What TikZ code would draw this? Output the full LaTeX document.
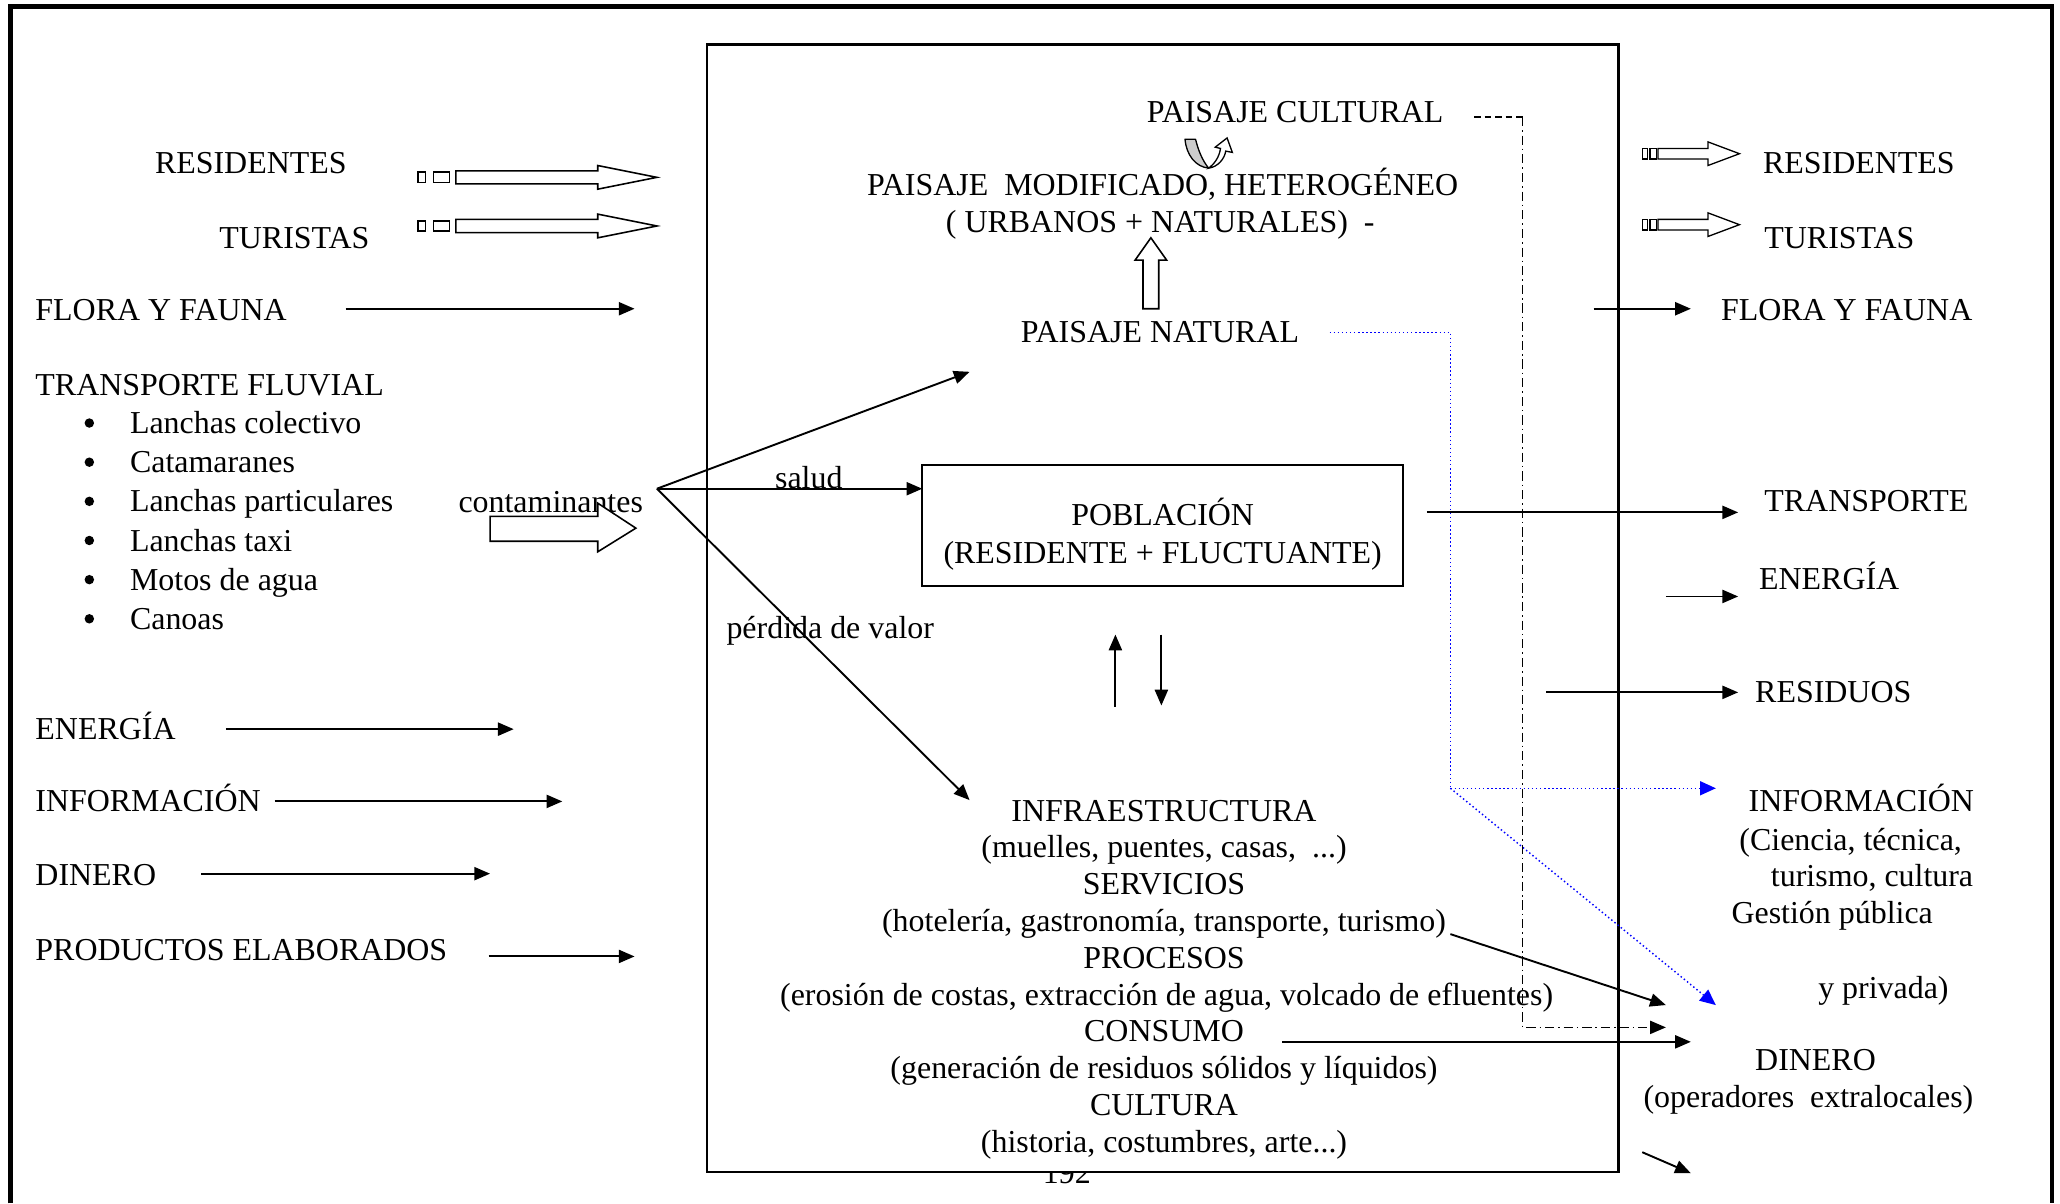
\documentclass[tikz,border=0pt]{standalone}
\usepackage{fontspec}
\setmainfont{Liberation Serif}
\usetikzlibrary{arrows.meta}
\begin{document}
\begin{tikzpicture}[x=1pt,y=-1pt,
  font=\fontsize{24.3}{28}\selectfont,
  every node/.style={inner sep=0pt,outer sep=0pt},
  lt/.style={anchor=base west},
  ct/.style={anchor=base},
  arr/.style={line width=1.45pt,-{Triangle[length=12pt,width=10pt]}},
  blk/.style={draw=black,line width=1.2pt,fill=white,line join=miter},
  bluedot/.style={draw=blue,line width=1.1pt,dotted},
  barr/.style={bluedot,-{Triangle[length=12pt,width=11pt,fill=blue,line width=0pt]}},
  dashdot/.style={line width=1.2pt,dash pattern=on 7pt off 3pt on 1.2pt off 3pt}]
\useasboundingbox (0,0) rectangle (1568,916);
\fill[white] (0,0) rectangle (1568,916);
% outer frame
\draw[line width=3.5pt] (8,916) -- (8,5) -- (1562,5) -- (1562,916);
% page number (partly hidden by the box)
\node[ct] (pg) at (812,901) {192};
% inner box
\draw[line width=1.8pt,fill=white] (538,34) rectangle (1232,892);

% ---------- left texts ----------
\node[lt] (lres) at (118,132) {RESIDENTES};
\node[lt] (ltur) at (167,189) {TURISTAS};
\node[lt] (lflo) at (27,244) {FLORA Y FAUNA};
\node[lt] (ltra) at (27,301) {TRANSPORTE FLUVIAL};
\foreach \t [count=\i] in {Lanchas colectivo,Catamaranes,Lanchas particulares,Lanchas taxi,Motos de agua,Canoas}{
  \fill (68,{322+29.8*(\i-1)}) circle (3.6pt);
  \node[lt] (it\i) at (99,{330+29.8*(\i-1)}) {\t};
}
\node[lt] (lene) at (27,563) {ENERGÍA};
\node[lt] (linf) at (27,618) {INFORMACIÓN};
\node[lt] (ldin) at (27,674) {DINERO};
\node[lt] (lpro) at (27,731) {PRODUCTOS ELABORADOS};

% left block arrows
\foreach \yy in {135,172}{
  \draw[blk] (318,{\yy-4}) rectangle (324,{\yy+4});
  \draw[blk] (330,{\yy-4}) rectangle (342,{\yy+4});
  \draw[blk] (347,{\yy-5}) -- (455,{\yy-5}) -- (455,{\yy-9}) -- (500,\yy) -- (455,{\yy+9}) -- (455,{\yy+5}) -- (347,{\yy+5}) -- cycle;
}
% left simple arrows
\coordinate (flo1) at (263,235); \coordinate (flo2) at (483,235);
\draw[arr] (flo1) -- (flo2);
\coordinate (ene1) at (172,555); \coordinate (ene2) at (391,555);
\draw[arr] (ene1) -- (ene2);
\coordinate (inf1) at (209,610); \coordinate (inf2) at (428,610);
\draw[arr] (inf1) -- (inf2);
\coordinate (din1) at (153,665); \coordinate (din2) at (373,665);
\draw[arr] (din1) -- (din2);
\coordinate (pro1) at (372,728); \coordinate (pro2) at (483,728);
\draw[arr] (pro1) -- (pro2);

% contaminantes
\node[lt] (cont) at (349,390) {contaminantes};
\draw[blk] (373,393) -- (455,393) -- (455,383) -- (484,402) -- (455,420) -- (455,412) -- (373,412) -- cycle;

% ---------- centre ----------
\node[lt] (pcul) at (873,93) {PAISAJE CULTURAL};
\node[ct] (pmod) at (885,149) {PAISAJE~ MODIFICADO, HETEROGÉNEO};
\node[lt] (purb) at (720,177) {( URBANOS + NATURALES)~ -};
\node[lt] (pnat) at (777,261) {PAISAJE NATURAL};
% U-turn arrow
\draw[line width=1pt,fill=gray!40,line join=round]
  (902,106) .. controls (903,118) and (910,127) .. (920,128)
  .. controls (915,122) and (912,114) .. (910,106) -- cycle;
\draw[line width=1pt,fill=white,line join=miter]
  (920,128) .. controls (927,127) and (932,121) .. (933,115)
  -- (938,116) -- (934,105) -- (925,112) -- (929,113)
  .. controls (928,120) and (924,125) .. (920,128) -- cycle;
% up block arrow
\draw[blk] (870,235) -- (870,198) -- (864,198) -- (876,181) -- (888,198) -- (882,198) -- (882,235) -- cycle;

% fan of arrows
\coordinate (apex) at (500,372);
\coordinate (fanA) at (738,283);
\coordinate (fanC) at (738,609);
\draw[arr] (apex) -- (fanA);
\draw[arr] (apex) -- (fanC);
\node[lt] (salud) at (590,372) {salud};
\node[lt] (perd) at (553,486) {pérdida de valor};

% Poblacion box
\node[draw,line width=1.6pt,minimum width=366pt,minimum height=92pt,anchor=north west] (pob) at (702,354) {};
\node[ct] (pob1) at (885,400) {POBLACIÓN};
\node[ct] (pob2) at (885,429) {(RESIDENTE + FLUCTUANTE)};
\draw[arr] (apex) -- (pob.west |- apex);
% two small vertical arrows
\coordinate (up1) at (849,538); \coordinate (up2) at (849,483);
\coordinate (dn1) at (884,483); \coordinate (dn2) at (884,537);
\draw[arr] (up1) -- (up2);
\draw[arr] (dn1) -- (dn2);

% lower block of text
\node[ct] (c1) at (886,625) {INFRAESTRUCTURA};
\node[ct] (c2) at (886,653) {(muelles, puentes, casas,~ ...)};
\node[ct] (c3) at (886,681) {SERVICIOS};
\node[ct] (c4) at (886,709) {(hotelería, gastronomía, transporte, turismo)};
\node[ct] (c5) at (886,737) {PROCESOS};
\node[ct] (c6) at (888,765) {(erosión de costas, extracción de agua, volcado de efluentes)};
\node[ct] (c7) at (886,793) {CONSUMO};
\node[ct] (c8) at (886,821) {(generación de residuos sólidos y líquidos)};
\node[ct] (c9) at (886,849) {CULTURA};
\node[ct] (c10) at (886,877) {(historia, costumbres, arte...)};

% ---------- right side ----------
\foreach \yy in {117,171}{
  \draw[blk,line width=1pt] (1250,{\yy-4}) rectangle (1254,{\yy+4});
  \draw[blk,line width=1pt] (1256,{\yy-4}) rectangle (1261,{\yy+4});
  \draw[blk,line width=1pt] (1262,{\yy-4}) -- (1300,{\yy-4}) -- (1300,{\yy-9}) -- (1324,\yy) -- (1300,{\yy+9}) -- (1300,{\yy+4}) -- (1262,{\yy+4}) -- cycle;
}
\node[lt] (rres) at (1342,132) {RESIDENTES};
\node[lt] (rtur) at (1343,189) {TURISTAS};
\node[lt] (rflo) at (1310,244) {FLORA Y FAUNA};
\node[lt] (rtra) at (1343,389) {TRANSPORTE};
\node[lt] (rene) at (1339,449) {ENERGÍA};
\node[lt] (rres2) at (1336,535) {RESIDUOS};
\node[lt] (rinf) at (1331,618) {INFORMACIÓN};
\node[lt] (rinf2) at (1324,647) {(Ciencia, técnica,};
\node[lt] (rinf3) at (1348,675) {turismo, cultura};
\node[lt] (rinf4) at (1318,703) {Gestión pública};
\node[lt] (rinf5) at (1384,760) {y privada)};
\node[lt] (rdin) at (1336,815) {DINERO};
\node[lt] (rdin2) at (1251,843) {(operadores~ extralocales)};

\coordinate (rf1) at (1213,235); \coordinate (rf2) at (1287,235);
\draw[arr] (rf1) -- (rf2);
\coordinate (tr1) at (1086,390); \coordinate (tr2) at (1323,390);
\draw[arr] (tr1) -- (tr2);
\coordinate (en1) at (1268,454); \coordinate (en2) at (1323,454);
\draw[arr] (en1) -- (en2);
\coordinate (re1) at (1177,527); \coordinate (re2) at (1323,527);
\draw[arr] (re1) -- (re2);
\coordinate (sv1) at (1104,711); \coordinate (sv2) at (1268,765);
\draw[arr] (sv1) -- (sv2);
\coordinate (co1) at (976,793); \coordinate (co2) at (1287,793);
\draw[arr] (co1) -- (co2);
\coordinate (sm1) at (1250,877); \coordinate (sm2) at (1287,893);
\draw[arr] (sm1) -- (sm2);

% blue dotted links
\coordinate (bn0) at (1012,253);
\coordinate (bn1) at (1104,253);
\coordinate (bn2) at (1104,600);
\coordinate (bn3) at (1306,600);
\coordinate (bn4) at (1306,765);
\draw[bluedot] (bn0) -- (bn1) -- (bn2);
\draw[barr] (bn2) -- (bn3);
\draw[barr] (bn2) -- (bn4);

% dash-dot link from PAISAJE CULTURAL
\coordinate (dd0) at (1122,89);
\coordinate (dd1) at (1159,89);
\coordinate (dd2) at (1159,782);
\coordinate (dd3) at (1268,782);
\draw[line width=1.2pt,dash pattern=on 5pt off 3pt] (dd0) -- (dd1);
\draw[dashdot,-{Triangle[length=12pt,width=10pt]}] (dd1) -- (dd2) -- (dd3);
\end{tikzpicture}
\end{document}
